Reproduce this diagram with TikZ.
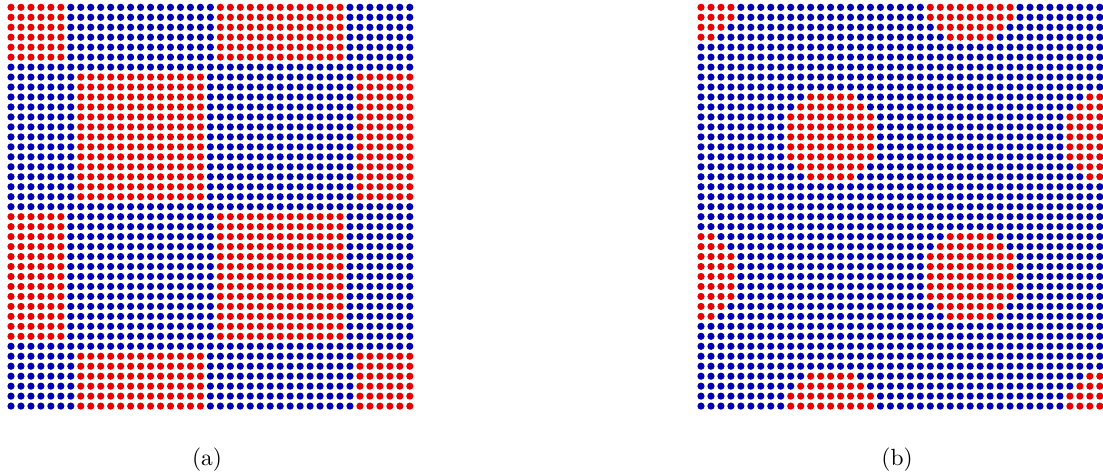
\documentclass[tikz,border=0pt]{standalone}
\usepackage{xcolor}
\usepackage{tikz}
\definecolor{dotred}{RGB}{232, 0, 0}
\definecolor{dotblue}{RGB}{0, 0, 178}
\tikzset{latdot/.style={fill=#1, draw=none}}

\begin{document}
\begin{tikzpicture}[x=0.015cm, y=-0.015cm]
  \useasboundingbox (0,0) rectangle (1103,474);
  % both lattices, 41 x 41 sites, cells of 14 sites
  \foreach \i in {0,...,40} {
    \foreach \j in {0,...,40} {
      \pgfmathtruncatemacro{\ca}{round((\i+1)/14)}
      \pgfmathtruncatemacro{\cb}{round((\j+1)/14)}
      \pgfmathtruncatemacro{\dx}{abs(\i+1-14*\ca)}
      \pgfmathtruncatemacro{\dy}{abs(\j+1-14*\cb)}
      \pgfmathtruncatemacro{\sq}{and(iseven(\ca+\cb), and(\dx<7, \dy<7))}
      \pgfmathtruncatemacro{\rd}{and(iseven(\ca+\cb), \dx*\dx+\dy*\dy<21)}
      \ifnum\sq=1 \def\colA{dotred}\else\def\colA{dotblue}\fi
      \ifnum\rd=1 \def\colB{dotred}\else\def\colB{dotblue}\fi
      \fill[latdot=\colA] (11+9.97*\i, 7.3+9.97*\j) circle[radius=3.6];
      \fill[latdot=\colB] (701+9.97*\i, 7.3+9.97*\j) circle[radius=3.6];
    }
  }
  \node (lblA) at (207,460) {(a)};
  \node (lblB) at (897,460) {(b)};
\end{tikzpicture}
\end{document}
